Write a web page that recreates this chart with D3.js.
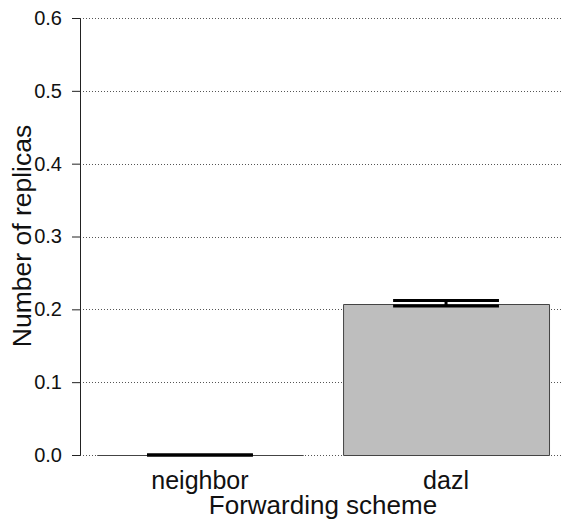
<!DOCTYPE html>
<html>
<head>
<meta charset="utf-8">
<script src="https://cdn.jsdelivr.net/npm/d3@7"></script>
<style>
  body { margin: 0; background: #fff; }
  svg { display: block; font-family: "Liberation Sans", Arial, sans-serif; }
</style>
</head>
<body>
<svg id="chart"></svg>
<script>
// chart data
const schemes = ['neighbor', 'dazl'];
const means = [0.0, 0.208];
const errLow = [0.0, 0.2045];
const errHigh = [0.0, 0.212];
const yTicks = [0.0, 0.1, 0.2, 0.3, 0.4, 0.5, 0.6];

const width = 562;
const height = 521;

const svg = d3.select('#chart')
    .attr('width', width)
    .attr('height', height);

// plot region
const x = d3.scaleBand()
    .domain(schemes)
    .range([80, 566])
    .paddingInner(0.163)
    .paddingOuter(0.069);

const y = d3.scaleLinear()
    .domain([0, 0.6])
    .range([455, 18]);

// dotted grid lines
svg.append('g')
    .selectAll('line')
    .data(yTicks)
    .join('line')
    .attr('x1', 80)
    .attr('x2', 562)
    .attr('y1', d => Math.round(y(d)) + 0.5)
    .attr('y2', d => Math.round(y(d)) + 0.5)
    .attr('stroke', '#555')
    .attr('stroke-width', 1)
    .attr('stroke-dasharray', '1,2');

// bars (drawn as paths so a zero-height bar still shows its outline)
svg.append('g')
    .selectAll('path')
    .data(schemes)
    .join('path')
    .attr('d', (d, i) => {
        const x0 = x(d) + 0.5, x1 = x0 + x.bandwidth();
        const y0 = Math.round(y(0)) + 0.5, y1 = Math.round(y(means[i])) + 0.5;
        return `M${x0},${y0}V${y1}H${x1}V${y0}Z`;
    })
    .attr('fill', '#bebebe')
    .attr('stroke', '#444')
    .attr('stroke-width', 1);

// error bars
const errG = svg.append('g');
schemes.forEach((s, i) => {
    const cx = x(s) + x.bandwidth() / 2;
    const half = x.bandwidth() * 0.257;
    [errLow[i], errHigh[i]].forEach(v => {
        errG.append('line')
            .attr('x1', cx - half)
            .attr('x2', cx + half)
            .attr('y1', y(v))
            .attr('y2', y(v))
            .attr('stroke', '#000')
            .attr('stroke-width', 3);
    });
    errG.append('line')
        .attr('x1', cx)
        .attr('x2', cx)
        .attr('y1', y(errLow[i]))
        .attr('y2', y(errHigh[i]))
        .attr('stroke', '#000')
        .attr('stroke-width', 3);
});

// y axis
const yAxis = d3.axisLeft(y)
    .tickValues(yTicks)
    .tickFormat(d3.format('.1f'))
    .tickSize(8)
    .tickSizeOuter(0)
    .tickPadding(10);

const yg = svg.append('g')
    .attr('transform', 'translate(80,0)')
    .call(yAxis);
yg.select('.domain').attr('stroke', '#222');
yg.selectAll('.tick line').attr('stroke', '#222');
yg.selectAll('.tick text')
    .attr('font-size', 20)
    .attr('fill', '#111')
    .attr('font-family', '"Liberation Sans", Arial, sans-serif');

// x labels (no axis line)
svg.append('g')
    .selectAll('text')
    .data(schemes)
    .join('text')
    .attr('x', d => x(d) + x.bandwidth() / 2)
    .attr('y', 489)
    .attr('text-anchor', 'middle')
    .attr('font-size', 25)
    .attr('fill', '#111')
    .text(d => d);

// axis titles
svg.append('text')
    .attr('x', 323)
    .attr('y', 514)
    .attr('text-anchor', 'middle')
    .attr('font-size', 26)
    .attr('fill', '#111')
    .text('Forwarding scheme');

svg.append('text')
    .attr('transform', 'translate(31,236) rotate(-90)')
    .attr('text-anchor', 'middle')
    .attr('font-size', 26.5)
    .attr('fill', '#111')
    .text('Number of replicas');
</script>
</body>
</html>
